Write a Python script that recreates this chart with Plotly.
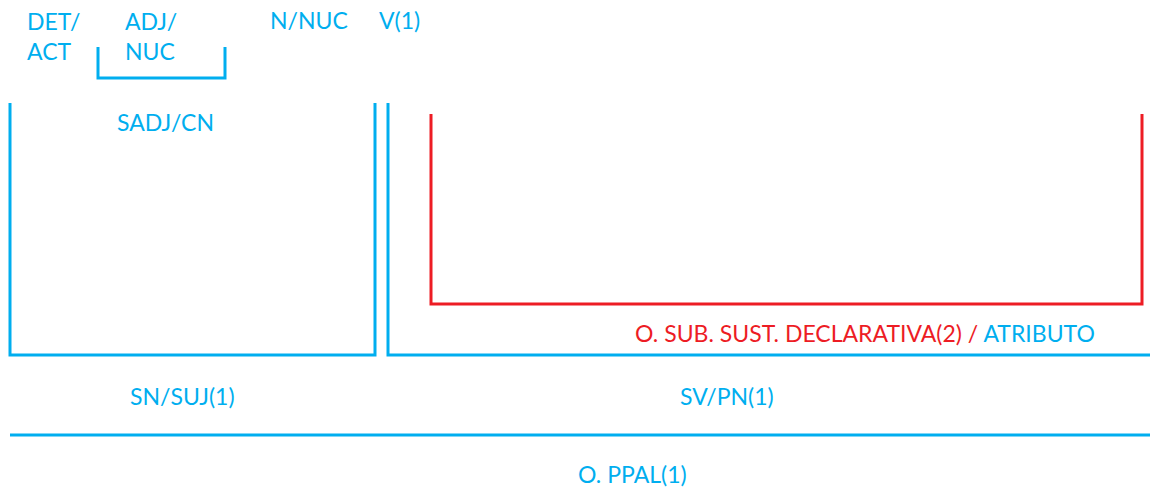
import plotly.graph_objects as go

BLUE = "#00AEEF"
RED = "#ED1C24"
FONT = "Lato"

# Word labels (top row)
word_labels = ["DET/<br>ACT", "ADJ/<br>NUC", "N/NUC", "V(1)"]
word_x = [25, 123, 268, 377]
word_y = [36, 36, 20, 20]

# Constituent brackets: left x, right x, top y, bottom y, colour, closed on the right
bracket_x0 = [98, 10, 388, 431]
bracket_x1 = [225, 375, 1150, 1142]
bracket_top = [47, 103, 103, 114]
bracket_bottom = [78, 355, 355, 304]
bracket_color = [BLUE, BLUE, BLUE, RED]
bracket_right_side = [True, True, False, True]

# Constituent labels
const_labels = ["SADJ/CN", "SN/SUJ(1)", "SV/PN(1)", "O. PPAL(1)"]
const_x = [165, 182, 727, 632]
const_y = [122, 396, 396, 474]

sub_label_red = "O. SUB. SUST. DECLARATIVA(2) /"
sub_label_blue = "ATRIBUTO"

# Main clause line
main_line_x = [10, 1150]
main_line_y = 435

fig = go.Figure()
fig.add_trace(go.Scatter(x=[0, 1150], y=[0, 492], mode="markers",
                         marker=dict(opacity=0), hoverinfo="skip", showlegend=False))

for x0, x1, yt, yb, c, rs in zip(bracket_x0, bracket_x1, bracket_top, bracket_bottom,
                                  bracket_color, bracket_right_side):
    path = f"M {x0},{yt} L {x0},{yb} L {x1},{yb}"
    if rs:
        path += f" L {x1},{yt}"
    fig.add_shape(type="path", path=path, xref="x", yref="y",
                  line=dict(color=c, width=3))

fig.add_shape(type="line", x0=main_line_x[0], x1=main_line_x[1], y0=main_line_y, y1=main_line_y,
              xref="x", yref="y", line=dict(color=BLUE, width=3))

for t, x, y in zip(word_labels, word_x, word_y):
    fig.add_annotation(x=x, y=y, text=t, showarrow=False, xanchor="left", yanchor="middle",
                       align="left", font=dict(family=FONT, size=23, color=BLUE))

for t, x, y in zip(const_labels, const_x, const_y):
    fig.add_annotation(x=x, y=y, text=t, showarrow=False, xanchor="center", yanchor="middle",
                       font=dict(family=FONT, size=23, color=BLUE))

fig.add_annotation(x=865, y=333,
                   text=f"<span style='color:{RED}'>{sub_label_red}</span> {sub_label_blue}",
                   showarrow=False, xanchor="center", yanchor="middle",
                   font=dict(family=FONT, size=23, color=BLUE))

fig.update_layout(width=1150, height=492, margin=dict(l=0, r=0, t=0, b=0),
                  paper_bgcolor="white", plot_bgcolor="white",
                  xaxis=dict(range=[0, 1150], visible=False, fixedrange=True),
                  yaxis=dict(range=[492, 0], visible=False, fixedrange=True),
                  showlegend=False)

fig.write_html("out.html", config={"displayModeBar": False},
               post_script="document.body.style.margin='0';document.body.style.overflow='hidden';")
